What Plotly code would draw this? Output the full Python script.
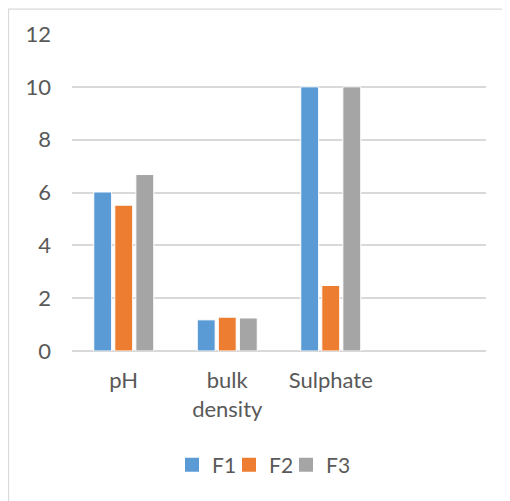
import plotly.graph_objects as go

categories = ["pH", "bulk<br>density", "Sulphate", " "]
f1 = [6.02, 1.18, 10.0, None]
f2 = [5.52, 1.28, 2.48, None]
f3 = [6.68, 1.25, 10.0, None]
series_names = ["F1", "F2", "F3"]
colors = ["#5B9BD5", "#ED7D31", "#A5A5A5"]
y_ticks = [0, 2, 4, 6, 8, 10, 12]

W, H = 502, 493
ml, mr, mt, mb = 64, 24, 26, 149.5
pw = W - ml - mr
ph = H - mt - mb

fig = go.Figure()
for name, vals, col in zip(series_names, [f1, f2, f3], colors):
    fig.add_trace(go.Bar(
        x=categories, y=vals, name=name, showlegend=False,
        marker=dict(color=col, line=dict(color="white", width=1)),
    ))
# legend entries with larger square swatches, one legend box each
legend_ids = ["legend", "legend2", "legend3"]
legend_px = [164, 221, 278]  # left edge of each legend box in figure pixels
for name, col, lid in zip(series_names, colors, legend_ids):
    fig.add_trace(go.Scatter(
        x=[None], y=[None], mode="markers", name=name, legend=lid,
        marker=dict(symbol="square", size=14, color=col),
    ))

legend_common = dict(orientation="h", xanchor="left", y=-0.36, yanchor="middle",
                     font=dict(size=21, color="#595959"), itemwidth=30,
                     itemsizing="trace", bgcolor="rgba(0,0,0,0)")
legends = {}
for lid, px in zip(legend_ids, legend_px):
    legends[lid] = dict(legend_common, x=(px - ml) / pw)

fig.update_layout(
    width=W, height=H,
    margin=dict(l=ml, r=mr, t=mt, b=mb, pad=0),
    paper_bgcolor="white", plot_bgcolor="white",
    barmode="group", bargap=0.39, bargroupgap=0.15,
    font=dict(family="Lato, Open Sans, sans-serif", size=22, color="#595959"),
    showlegend=True,
    xaxis=dict(type="category", categoryorder="array", categoryarray=categories,
               range=[-0.5, 3.5], showgrid=False, showline=False, ticks="",
               ticklabelstandoff=14, fixedrange=True),
    yaxis=dict(range=[0, 12], tickvals=y_ticks, showgrid=True, gridcolor="#D9D9D9",
               gridwidth=1.8, zeroline=True, zerolinecolor="#D9D9D9", zerolinewidth=1.8,
               showline=False, ticks="", ticklabelstandoff=20, fixedrange=True),
    shapes=[dict(type="rect", xref="paper", yref="paper",
                 x0=(0.5 - ml) / pw, x1=1.3, y0=(H - mb - 1) / ph, y1=-0.7,
                 line=dict(color="#D9D9D9", width=1.2), fillcolor="rgba(0,0,0,0)",
                 layer="below")],
    **legends,
)

fig.write_html("out.html")
